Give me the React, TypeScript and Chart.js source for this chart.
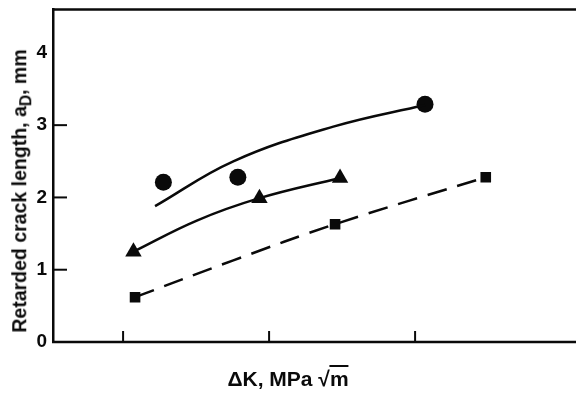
import React, { useEffect, useRef } from "react";
import { Chart, registerables } from "chart.js";

Chart.register(...registerables);

// Measured data points (ΔK, retarded crack length a_D in mm)
const circleX = [12.76, 17.86, 30.68];
const circleY = [2.21, 2.28, 3.29];
const triangleX = [10.71, 19.34, 24.86];
const triangleY = [1.25, 1.99, 2.27];
const squareX = [10.82, 24.52, 34.84];
const squareY = [0.62, 1.63, 2.28];

// Fitted curves
const circleFitX = [12.19, 17.55, 24.4, 30.68];
const circleFitY = [1.88, 2.5, 2.98, 3.28];
const triangleFitX = [10.71, 15.05, 19.34, 24.86];
const triangleFitY = [1.25, 1.68, 1.99, 2.27];
const squareFitX = [10.82, 17.55, 24.52, 34.84];
const squareFitY = [0.62, 1.13, 1.63, 2.28];

// Axis ticks
const yTickValues = [0, 1, 2, 3, 4];
const yInnerTicks = [1, 2, 3];
const xInnerTicks = [10, 20, 30];

const zip = (xs: number[], ys: number[]) => xs.map((x, i) => ({ x, y: ys[i] }));

const INK = "#0a0a0a";
const FONT = "'Liberation Sans', Arial, sans-serif";

const framePlugin = {
  id: "frame",
  afterDraw(chart: any) {
    const { ctx, chartArea, scales, width } = chart;
    ctx.save();
    ctx.strokeStyle = INK;
    ctx.lineWidth = 2.5;
    ctx.beginPath();
    ctx.moveTo(chartArea.left - 1, chartArea.top);
    ctx.lineTo(width, chartArea.top);
    ctx.moveTo(chartArea.left - 1, chartArea.bottom);
    ctx.lineTo(width, chartArea.bottom);
    ctx.stroke();
    ctx.lineWidth = 2;
    yInnerTicks.forEach((v) => {
      const y = scales.y.getPixelForValue(v);
      ctx.beginPath();
      ctx.moveTo(chartArea.left, y);
      ctx.lineTo(chartArea.left + 14, y);
      ctx.stroke();
    });
    xInnerTicks.forEach((v) => {
      const x = scales.x.getPixelForValue(v);
      ctx.beginPath();
      ctx.moveTo(x, chartArea.bottom);
      ctx.lineTo(x, chartArea.bottom - 11);
      ctx.stroke();
    });
    ctx.restore();
  },
};

export default function App() {
  const ref = useRef<HTMLCanvasElement>(null);

  useEffect(() => {
    if (!ref.current) return;
    const markers = (data: any, style: string, r: number) => ({
      data,
      showLine: false,
      pointStyle: style,
      pointRadius: r,
      pointBackgroundColor: INK,
      pointBorderColor: INK,
      pointBorderWidth: 0,
    });
    const curve = (data: any, dash: number[]) => ({
      data,
      showLine: true,
      pointRadius: 0,
      borderColor: INK,
      borderWidth: 2.5,
      borderDash: dash,
      tension: 0.4,
      fill: false,
    });
    const chart = new Chart(ref.current, {
      type: "scatter",
      data: {
        datasets: [
          curve(zip(circleFitX, circleFitY), []),
          curve(zip(triangleFitX, triangleFitY), []),
          curve(zip(squareFitX, squareFitY), [20, 11]),
          markers(zip(circleX, circleY), "circle", 8.5),
          markers(zip(triangleX, triangleY), "triangle", 9.5),
          markers(zip(squareX, squareY), "rect", 7.5),
        ] as any,
      },
      options: {
        animation: false,
        responsive: false,
        events: [],
        layout: { padding: { top: 9, left: 0, right: 0, bottom: 0 } },
        plugins: { legend: { display: false }, tooltip: { enabled: false } },
        scales: {
          x: {
            type: "linear",
            min: 5.2,
            max: 40.37,
            grid: { display: false, drawTicks: false },
            border: { display: false },
            ticks: { display: false },
            afterFit: (s: any) => {
              s.height = 53;
              s.paddingLeft = 0;
              s.paddingRight = 0;
            },
          },
          y: {
            type: "linear",
            min: 0,
            max: 4.6,
            grid: { display: false, drawTicks: false },
            border: { display: true, color: INK, width: 2.5 },
            afterBuildTicks: (s: any) => {
              s.ticks = yTickValues.map((v) => ({ value: v }));
            },
            ticks: {
              color: INK,
              padding: 6,
              font: { family: FONT, size: 19, weight: "bold" },
              callback: (v: any) => String(v),
            },
            afterFit: (s: any) => {
              s.width = 53;
              s.paddingTop = 0;
              s.paddingBottom = 0;
            },
          },
        },
      },
      plugins: [framePlugin],
    });
    return () => chart.destroy();
  }, []);

  return (
    <div
      style={{
        position: "fixed",
        left: 0,
        top: 0,
        width: 576,
        height: 395,
        background: "#fff",
        overflow: "hidden",
      }}
    >
      <canvas ref={ref} width={576} height={395} style={{ display: "block" }} />
      <div
        style={{
          position: "absolute",
          left: 20,
          top: 191,
          transform: "translate(-50%, -50%) rotate(-90deg)",
          whiteSpace: "nowrap",
          fontFamily: FONT,
          fontWeight: "bold",
          fontSize: 19.5,
          lineHeight: 1,
          color: INK,
        }}
      >
        Retarded crack length, a
        <span style={{ position: "relative", top: "0.3em", fontSize: "0.8em" }}>D</span>
        , mm
      </div>
      <div
        style={{
          position: "absolute",
          left: 288,
          top: 368,
          transform: "translateX(-50%)",
          whiteSpace: "nowrap",
          fontFamily: FONT,
          fontWeight: "bold",
          fontSize: 21,
          lineHeight: 1,
          color: INK,
        }}
      >
        ΔK, MPa √<span style={{ borderTop: "2px solid " + INK }}>m</span>
      </div>
    </div>
  );
}
